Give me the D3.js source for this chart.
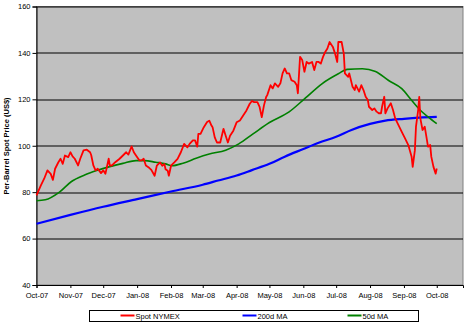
<!DOCTYPE html>
<style>
  body { margin: 0; background: #fff; }
  text { font-family: "Liberation Sans", Arial, sans-serif; font-size: 7.5px; fill: #000; }
  .domain { stroke: #000; }
</style>
<svg width="470" height="324"></svg>
<script src="https://cdn.jsdelivr.net/npm/d3@7"></script>
<script>

// values
var spot = [
  ["2007-10-01",78.6],["2007-10-05",82.9],["2007-10-08",85.8],["2007-10-11",89.4],["2007-10-14",87.9],
  ["2007-10-16",85.3],["2007-10-18",90.1],["2007-10-21",92.9],["2007-10-23",94.4],["2007-10-25",92.2],
  ["2007-10-27",95.8],["2007-10-30",95.1],["2007-11-01",97.2],["2007-11-03",95.4],["2007-11-05",94.4],
  ["2007-11-08",91.5],["2007-11-10",94.4],["2007-11-13",98.0],["2007-11-16",98.3],["2007-11-19",97.2],
  ["2007-11-20",96.0],["2007-11-22",91.5],["2007-11-24",89.4],["2007-11-26",90.1],["2007-11-29",88.2],
  ["2007-12-01",89.4],["2007-12-03",87.9],["2007-12-06",94.4],["2007-12-07",91.5],["2007-12-09",91.5],
  ["2007-12-12",92.9],["2007-12-16",94.4],["2007-12-19",95.8],["2007-12-22",97.2],["2007-12-24",96.2],
  ["2007-12-27",99.7],["2007-12-29",97.2],["2007-12-31",95.8],["2008-01-03",93.7],["2008-01-05",93.7],
  ["2008-01-07",94.4],["2008-01-09",91.5],["2008-01-12",90.5],["2008-01-14",89.6],["2008-01-17",87.1],
  ["2008-01-19",91.4],["2008-01-22",92.8],["2008-01-24",91.4],["2008-01-26",92.1],["2008-01-27",89.9],
  ["2008-01-29",89.2],["2008-01-30",87.1],["2008-02-01",91.4],["2008-02-04",92.8],["2008-02-07",94.3],
  ["2008-02-10",97.2],["2008-02-13",100.8],["2008-02-16",99.3],["2008-02-18",100.8],["2008-02-21",102.3],
  ["2008-02-23",102.3],["2008-02-25",99.6],["2008-02-26",105.1],["2008-02-28",105.1],["2008-03-02",108.0],
  ["2008-03-05",110.2],["2008-03-07",110.8],["2008-03-09",108.7],["2008-03-10",108.0],["2008-03-12",103.6],
  ["2008-03-14",101.4],["2008-03-17",101.4],["2008-03-20",107.3],["2008-03-22",104.3],["2008-03-24",101.4],
  ["2008-03-26",104.3],["2008-03-29",106.5],["2008-04-01",110.1],["2008-04-04",110.9],["2008-04-07",113.0],
  ["2008-04-10",115.2],["2008-04-13",118.1],["2008-04-15",119.3],["2008-04-17",118.8],["2008-04-20",118.8],
  ["2008-04-22",116.7],["2008-04-24",112.3],["2008-04-26",117.4],["2008-04-28",121.0],["2008-04-29",121.8],
  ["2008-05-02",126.1],["2008-05-04",124.7],["2008-05-06",126.9],["2008-05-09",125.4],["2008-05-11",126.9],
  ["2008-05-13",131.2],["2008-05-15",133.3],["2008-05-17",131.2],["2008-05-19",131.2],["2008-05-21",128.3],
  ["2008-05-24",127.6],["2008-05-26",126.1],["2008-05-27",122.6],["2008-05-29",138.3],["2008-05-31",136.9],
  ["2008-06-02",131.9],["2008-06-04",136.1],["2008-06-06",135.4],["2008-06-09",136.1],["2008-06-11",132.6],
  ["2008-06-13",136.1],["2008-06-15",136.1],["2008-06-17",135.4],["2008-06-19",138.3],["2008-06-21",140.4],
  ["2008-06-23",141.9],["2008-06-25",144.7],["2008-06-28",142.6],["2008-06-30",139.7],["2008-07-02",136.1],
  ["2008-07-03",144.7],["2008-07-06",144.7],["2008-07-08",139.7],["2008-07-09",131.2],["2008-07-12",129.7],
  ["2008-07-13",131.2],["2008-07-16",125.4],["2008-07-18",124.0],["2008-07-19",126.1],["2008-07-22",123.3],
  ["2008-07-24",126.1],["2008-07-26",124.0],["2008-07-28",121.1],["2008-07-30",119.7],["2008-07-31",116.8],
  ["2008-08-03",115.4],["2008-08-05",116.1],["2008-08-07",114.7],["2008-08-09",114.0],["2008-08-11",114.0],
  ["2008-08-12",116.8],["2008-08-14",121.1],["2008-08-15",114.0],["2008-08-17",116.1],["2008-08-20",118.3],
  ["2008-08-22",115.4],["2008-08-24",111.8],["2008-08-27",108.9],["2008-08-30",106.0],["2008-09-02",103.2],
  ["2008-09-05",100.3],["2008-09-08",95.3],["2008-09-09",90.9],["2008-09-11",98.1],["2008-09-12",108.2],
  ["2008-09-14",115.4],["2008-09-15",121.1],["2008-09-16",111.8],["2008-09-18",106.8],["2008-09-20",108.2],
  ["2008-09-22",102.5],["2008-09-23",99.6],["2008-09-25",100.3],["2008-09-26",95.3],["2008-09-28",90.9],
  ["2008-09-30",88.0],["2008-10-01",90.2]
];

var ma200 = [
  ["2007-10-01",66.4],["2007-11-01",70.2],["2007-12-01",73.7],["2008-01-01",77.0],["2008-02-01",80.3],
  ["2008-03-01",83.2],["2008-03-15",85.0],["2008-04-01",87.2],["2008-04-15",89.5],["2008-05-01",92.2],
  ["2008-05-15",95.3],["2008-06-01",98.6],["2008-06-15",101.3],["2008-07-01",103.9],["2008-07-15",106.8],
  ["2008-08-01",109.4],["2008-08-15",110.8],["2008-09-01",111.6],["2008-09-15",112.1],["2008-10-01",112.4]
];

var ma50 = [
  ["2007-10-01",76.3],["2007-10-09",76.7],["2007-10-22",80.0],["2007-11-02",84.6],["2007-11-14",87.4],
  ["2007-11-25",89.3],["2007-12-07",91.0],["2007-12-19",92.4],["2007-12-31",93.6],["2008-01-08",93.6],
  ["2008-01-18",92.9],["2008-01-27",92.2],["2008-02-02",91.4],["2008-02-12",92.5],["2008-02-24",94.6],
  ["2008-03-07",96.4],["2008-03-22",98.1],["2008-04-03",100.8],["2008-04-16",105.1],["2008-05-01",110.0],
  ["2008-05-19",114.6],["2008-06-03",120.6],["2008-06-18",126.7],["2008-07-03",131.0],["2008-07-11",132.9],
  ["2008-07-25",133.2],["2008-08-06",132.0],["2008-08-18",128.1],["2008-08-30",124.6],["2008-09-08",119.6],
  ["2008-09-16",115.3],["2008-09-23",112.4],["2008-10-01",109.5]
];

var yTicks = [40, 60, 80, 100, 120, 140, 160];
var seriesNames = ["Spot NYMEX", "200d MA", "50d MA"];
var seriesColors = ["#ff0000", "#0000ff", "#008000"];

var svg = d3.select("svg"),
    margin = {top: 6.5, right: 7, bottom: 39, left: 36.5},
    width = +svg.attr("width") - margin.left - margin.right,
    height = +svg.attr("height") - margin.top - margin.bottom,
    g = svg.append("g").attr("transform", "translate(" + margin.left + "," + margin.top + ")");

var parseTime = d3.timeParse("%Y-%m-%d");

var x = d3.scaleTime()
    .domain([parseTime("2007-10-01"), parseTime("2008-10-25")])
    .range([0, width]);

var y = d3.scaleLinear()
    .domain([40, 160])
    .range([height, 0]);

// plot area
g.append("rect")
    .attr("width", width)
    .attr("height", height)
    .attr("fill", "#c0c0c0")
    .attr("stroke", "#808080")
    .attr("stroke-width", 1);

// gridlines
g.selectAll(".grid")
    .data(yTicks.slice(1))
    .enter().append("line")
    .attr("class", "grid")
    .attr("x1", 0)
    .attr("x2", width)
    .attr("y1", function(d) { return Math.round(y(d)) + 0.5; })
    .attr("y2", function(d) { return Math.round(y(d)) + 0.5; })
    .attr("stroke", "#000")
    .attr("stroke-width", 1);

// axes
g.append("g")
    .attr("transform", "translate(0," + height + ")")
    .call(d3.axisBottom(x)
        .ticks(d3.timeMonth.every(1))
        .tickFormat(d3.timeFormat("%b-%y"))
        .tickSize(3)
        .tickPadding(5))
    .call(function(a) { a.selectAll("text").attr("font-size", null); a.attr("font-family", null).attr("font-size", null); });

g.append("g")
    .call(d3.axisLeft(y)
        .tickValues(yTicks)
        .tickSize(4)
        .tickPadding(2))
    .call(function(a) { a.attr("font-family", null).attr("font-size", null); a.selectAll("text").attr("font-size", "8px"); });

svg.append("text")
    .attr("transform", "translate(9,146) rotate(-90)")
    .attr("text-anchor", "middle")
    .attr("font-weight", "bold")
    .text("Per-Barrel Spot Price (US$)");

// lines
function makeLine(curve) {
  return d3.line()
      .curve(curve)
      .x(function(d) { return x(parseTime(d[0])); })
      .y(function(d) { return y(d[1]); });
}

g.append("path")
    .datum(ma200)
    .attr("fill", "none")
    .attr("stroke", seriesColors[1])
    .attr("stroke-width", 2.2)
    .attr("d", makeLine(d3.curveMonotoneX));

g.append("path")
    .datum(ma50)
    .attr("fill", "none")
    .attr("stroke", seriesColors[2])
    .attr("stroke-width", 1.6)
    .attr("d", makeLine(d3.curveMonotoneX));

g.append("path")
    .datum(spot)
    .attr("fill", "none")
    .attr("stroke", seriesColors[0])
    .attr("stroke-width", 1.8)
    .attr("stroke-linejoin", "round")
    .attr("d", makeLine(d3.curveLinear));

// legend
var legend = svg.append("g").attr("transform", "translate(89.5,310.5)");

legend.append("rect")
    .attr("width", 329)
    .attr("height", 11)
    .attr("fill", "#fff")
    .attr("stroke", "#000");

var legendX = [31, 153, 258];

var item = legend.selectAll(".item")
    .data(seriesNames)
    .enter().append("g")
    .attr("class", "item")
    .attr("transform", function(d, i) { return "translate(" + legendX[i] + ",0)"; });

item.append("line")
    .attr("x1", 0)
    .attr("x2", 14)
    .attr("y1", 5)
    .attr("y2", 5)
    .attr("stroke", function(d, i) { return seriesColors[i]; })
    .attr("stroke-width", 2);

item.append("text")
    .attr("x", 15)
    .attr("y", 8.2)
    .text(function(d) { return d; });

</script>
